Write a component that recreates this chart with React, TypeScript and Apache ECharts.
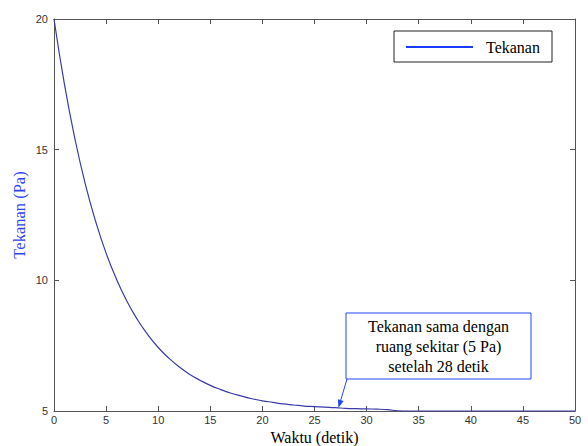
import React, { useEffect, useRef } from "react";
import * as echarts from "echarts";

const times = [
  0, 1, 2, 3, 4, 5, 6, 7, 8, 9, 10, 11, 12, 13, 14, 15, 16, 17, 18, 19, 20,
  21, 22, 23, 24, 25, 26, 27, 28, 29, 30, 31, 32, 33, 34, 35, 36, 37, 38, 39,
  40, 41, 42, 43, 44, 45, 46, 47, 48, 49, 50,
];
const pressure = [
  20, 17.51, 15.43, 13.69, 12.25, 11.04, 10.04, 9.2, 8.5, 7.92, 7.43, 7.03,
  6.69, 6.41, 6.18, 5.98, 5.82, 5.68, 5.57, 5.47, 5.39, 5.33, 5.27, 5.23, 5.19,
  5.17, 5.15, 5.13, 5.1, 5.09, 5.08, 5.07, 5.05, 5.01, 5.0, 5.0, 5.0, 5.0, 5.0,
  5.0, 5.0, 5.0, 5.0, 5.0, 5.0, 5.0, 5.0, 5.0, 5.0, 5.0, 5.0,
];
const seriesName = "Tekanan";
const xTitle = "Waktu (detik)";
const yTitle = "Tekanan (Pa)";
const noteLines = ["Tekanan sama dengan", "ruang sekitar (5 Pa)", "setelah 28 detik"];
const arrowTarget = [27.3, 5.12];

export default function App() {
  const ref = useRef<HTMLDivElement>(null);
  useEffect(() => {
    if (!ref.current) return;
    const chart = echarts.init(ref.current, null, { renderer: "svg" });
    const axisColor = "#555";
    const tickLabel = { color: "#333", fontSize: 11, fontFamily: "Liberation Sans, Arial, sans-serif" };
    const serif = "Liberation Serif, Times New Roman, serif";
    const gridBox = { left: 54, right: 13, top: 19, bottom: 35, containLabel: false, outerBoundsMode: "none" };
    chart.setOption({
      animation: false,
      backgroundColor: "#fff",
      grid: [gridBox, gridBox],
      xAxis: [
        {
          type: "value", gridIndex: 0, min: 0, max: 50, interval: 5, position: "bottom",
          axisLine: { show: true, onZero: false, lineStyle: { color: axisColor, width: 1 } },
          axisTick: { show: true, inside: true, length: 5, lineStyle: { color: axisColor } },
          axisLabel: { ...tickLabel, margin: 3 },
          splitLine: { show: false },
          name: xTitle, nameLocation: "middle", nameGap: 18, nameMoveOverlap: false,
          nameTextStyle: { color: "#000", fontSize: 16, fontFamily: serif, lineHeight: 16 },
        },
        {
          type: "value", gridIndex: 1, min: 0, max: 50, interval: 5, position: "top",
          axisLine: { show: true, onZero: false, lineStyle: { color: axisColor, width: 1 } },
          axisTick: { show: true, inside: true, length: 5, lineStyle: { color: axisColor } },
          axisLabel: { show: false },
          splitLine: { show: false },
        },
      ],
      yAxis: [
        {
          type: "value", gridIndex: 0, min: 5, max: 20, interval: 5, position: "left",
          axisLine: { show: true, onZero: false, lineStyle: { color: axisColor, width: 1 } },
          axisTick: { show: true, inside: true, length: 5, lineStyle: { color: axisColor } },
          axisLabel: { ...tickLabel, margin: 6, align: "right", verticalAlign: "middle", padding: [0, 0, 4, 0], hideOverlap: false },
          splitLine: { show: false },
          name: yTitle, nameLocation: "middle", nameGap: 26, nameMoveOverlap: false,
          nameTextStyle: { color: "#2f45f0", fontSize: 16.5, fontFamily: serif },
        },
        {
          type: "value", gridIndex: 1, min: 5, max: 20, interval: 5, position: "right",
          axisLine: { show: true, onZero: false, lineStyle: { color: axisColor, width: 1 } },
          axisTick: { show: true, inside: true, length: 5, lineStyle: { color: axisColor } },
          axisLabel: { show: false },
          splitLine: { show: false },
        },
      ],
      series: [
        {
          name: seriesName, type: "line", xAxisIndex: 0, yAxisIndex: 0,
          data: times.map((t, i) => [t, pressure[i]]),
          smooth: true, showSymbol: false,
          lineStyle: { color: "#3a3aa8", width: 1.2 },
        },
      ],
    });
    const tip = chart.convertToPixel({ xAxisIndex: 0, yAxisIndex: 0 }, arrowTarget) as number[];
    const boxL = 346, boxT = 313, boxW = 185, boxH = 66;
    const start = [boxL + 1, boxT + boxH];
    const dx = tip[0] - start[0], dy = tip[1] - start[1];
    const len = Math.hypot(dx, dy);
    const ux = dx / len, uy = dy / len;
    const hl = 8, hw = 3;
    const base = [tip[0] - ux * hl, tip[1] - uy * hl];
    chart.setOption({
      graphic: [
        {
          type: "rect", shape: { x: 394, y: 31, width: 158, height: 31 },
          style: { fill: "#fff", stroke: "#222", lineWidth: 1 },
        },
        {
          type: "line", shape: { x1: 406, y1: 47, x2: 473, y2: 47 },
          style: { stroke: "#1a3cff", lineWidth: 2 },
        },
        {
          type: "text", x: 486, y: 47,
          style: { text: seriesName, fill: "#000", font: `16px ${serif}`, verticalAlign: "middle" },
        },
        {
          type: "rect", shape: { x: boxL, y: boxT, width: boxW, height: boxH },
          style: { fill: "#fff", stroke: "#2244ff", lineWidth: 1 },
        },
        ...noteLines.map((t, i) => ({
          type: "text", x: boxL + boxW / 2, y: boxT + 13 + i * 20,
          style: { text: t, fill: "#000", font: `16px ${serif}`, align: "center", verticalAlign: "middle" },
        })),
        {
          type: "line", shape: { x1: start[0], y1: start[1], x2: base[0], y2: base[1] },
          style: { stroke: "#2244ff", lineWidth: 1 },
        },
        {
          type: "polygon",
          shape: {
            points: [
              tip,
              [base[0] - uy * hw, base[1] + ux * hw],
              [base[0] + uy * hw, base[1] - ux * hw],
            ],
          },
          style: { fill: "#2244ff" },
        },
      ],
    });
    return () => chart.dispose();
  }, []);
  return (
    <div
      ref={ref}
      style={{ position: "fixed", left: 0, top: 0, width: 588, height: 446 }}
    />
  );
}
